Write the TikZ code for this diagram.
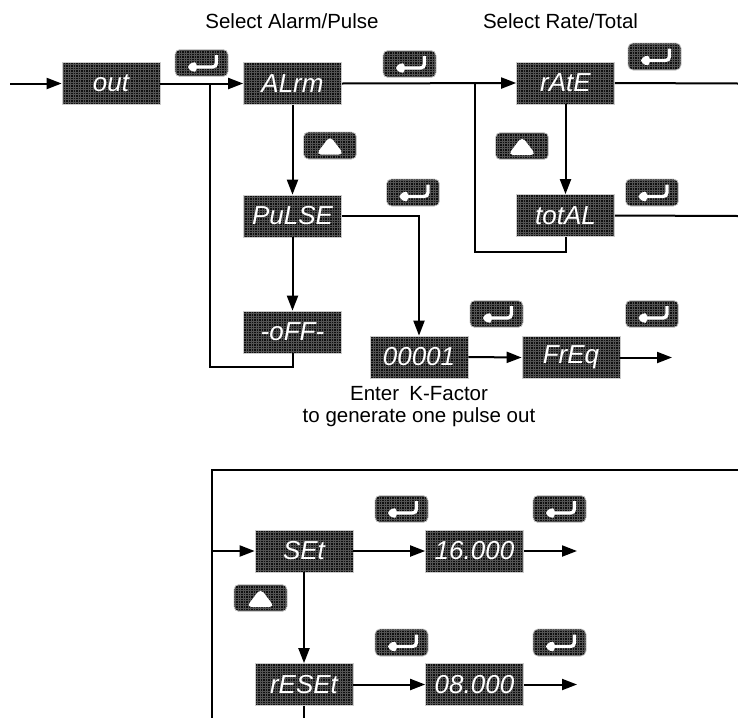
\documentclass[tikz,border=0pt]{standalone}
\usepackage{fontspec}
\setmainfont{Liberation Sans}
\usetikzlibrary{arrows.meta}
\newcommand{\dispfnt}{\fontsize{26}{26}\selectfont\itshape}
\newcommand{\lblfnt}{\fontsize{20.5}{22}\selectfont}
\tikzset{
  gridtex/.style={path picture={\draw[step=2.5pt, black!68, line width=0.25pt]
      (path picture bounding box.south west) grid (path picture bounding box.north east);}},
  disp/.style={draw=gray!40, line width=0.7pt, fill=black!94, minimum width=98pt,
      minimum height=42pt, inner sep=0pt, font=\dispfnt, text=white, gridtex},
  btnbase/.style={rounded corners=5pt, draw=gray!40, line width=0.7pt, fill=black!94,
      minimum width=53pt, minimum height=27pt, inner sep=0pt},
  enterbtn/.style={btnbase, path picture={
      \draw[step=2.5pt, black!68, line width=0.25pt]
        (path picture bounding box.south west) grid (path picture bounding box.north east);
      \draw[white, line width=3.4pt, rounded corners=4pt]
        (path picture bounding box.center) ++(15,-8) -- ++(0,12) -- ++(-22,0);
      \fill[white] (path picture bounding box.center) ++(-16,4) -- ++(11,-7) -- ++(0,14) -- cycle;}},
  upbtn/.style={btnbase, path picture={
      \draw[step=2.5pt, black!68, line width=0.25pt]
        (path picture bounding box.south west) grid (path picture bounding box.north east);
      \fill[white] (path picture bounding box.center) ++(0,-9.5) -- ++(14,18.5) -- ++(-28,0) -- cycle;}},
  conn/.style={line width=2pt, black},
  arr/.style={conn, -{Triangle[length=15pt,width=11pt]}},
  lbl/.style={font=\lblfnt, align=center, inner sep=0pt}
}
\begin{document}
\begin{tikzpicture}[x=1pt,y=-1pt]
\useasboundingbox (0,0) rectangle (738,718);
% titles
\node[lbl] (t1) at (292,21) {Select Alarm/Pulse};
\node[lbl] (t2) at (560.5,21) {Select Rate/Total};
\node[lbl] (t3) at (419,407) {Enter\enspace K-Factor\\to generate one pulse out};
% displays
\node[disp] (out) at (111,83.5) {out};
\node[disp] (alrm) at (292.5,83.5) {ALrm};
\node[disp] (rate) at (565.5,83) {rAtE};
\node[disp] (pulse) at (292.5,216) {PuLSE};
\node[disp] (off) at (292.5,332) {-oFF-};
\node[disp] (total) at (565.5,215.5) {totAL};
\node[disp] (kf) at (419,357) {00001};
\node[disp] (freq) at (571,357.5) {FrEq};
\node[disp] (set) at (304,551) {SEt};
\node[disp] (v16) at (474.5,551) {16.000};
\node[disp] (reset) at (304,684.5) {rESEt};
\node[disp] (v08) at (474.5,684.5) {08.000};
% buttons
\node[enterbtn] (e1) at (201.5,63) {};
\node[enterbtn] (e2) at (409.5,64) {};
\node[enterbtn] (e3) at (654.5,56.5) {};
\node[upbtn] (u1) at (330,145.5) {};
\node[upbtn] (u2) at (522,146) {};
\node[enterbtn] (e4) at (413,192.5) {};
\node[enterbtn] (e5) at (652,192.5) {};
\node[enterbtn] (e6) at (496.5,314) {};
\node[enterbtn] (e7) at (652,314) {};
\node[enterbtn] (e8) at (401.5,509) {};
\node[enterbtn] (e9) at (559.5,509) {};
\node[upbtn] (u3) at (260.5,598) {};
\node[enterbtn] (e10) at (401.5,642.5) {};
\node[enterbtn] (e11) at (559.5,642.5) {};
% coordinates
\coordinate (s0) at (10,83.5);
\coordinate (j1) at (210,83.5);
\coordinate (j1b) at (210,367);
\coordinate (j2) at (474.5,83.5);
\coordinate (j2b) at (474.5,252);
\coordinate (r1) at (738,83.5);
\coordinate (r2) at (738,216);
\coordinate (fo) at (672,357.5);
\coordinate (ft) at (738,470);
\coordinate (fl) at (212,470);
\coordinate (fb) at (212,718);
\coordinate (fs) at (212,551);
\coordinate (o16) at (577,551);
\coordinate (o08) at (577,684.5);
\coordinate (rb) at (304,718);
% connectors top
\draw[arr] (s0) -- (out.west);
\draw[arr] (out.east) -- (alrm.west);
\draw[conn] (j1) -- (j1b) -- (j1b -| off.south) -- (off.south);
\draw[arr] (alrm.east) -- (rate.west);
\draw[conn] (j2) -- (j2b) -- (j2b -| total.south) -- (total.south);
\draw[conn] (rate.east) -- (r1);
\draw[arr] (alrm.south) -- (pulse.north);
\draw[arr] (pulse.south) -- (off.north);
\draw[arr] (rate.south) -- (total.north);
\draw[conn] (total.east) -- (r2);
\draw[arr] (pulse.east) -| (kf.north);
\draw[arr] (kf.east) -- (freq.west);
\draw[arr] (freq.east) -- (fo);
% bottom
\draw[conn] (ft) -- (fl) -- (fb);
\draw[arr] (fs) -- (set.west);
\draw[arr] (set.east) -- (v16.west);
\draw[arr] (v16.east) -- (o16);
\draw[arr] (set.south) -- (reset.north);
\draw[arr] (reset.east) -- (v08.west);
\draw[arr] (v08.east) -- (o08);
\draw[conn] (reset.south) -- (rb);
\end{tikzpicture}
\end{document}
